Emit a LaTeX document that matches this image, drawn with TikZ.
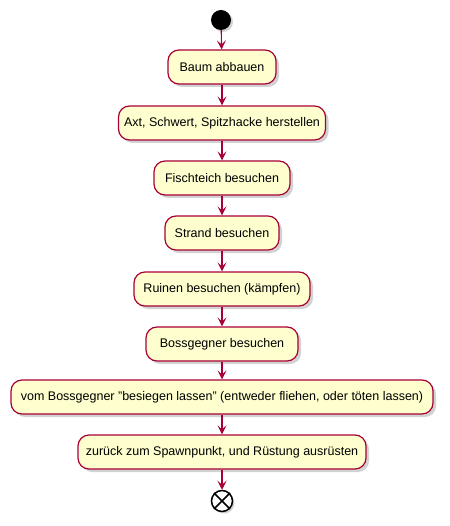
\documentclass[tikz,border=0pt]{standalone}
\usepackage{fontspec}
\setmainfont{Liberation Sans}
\usetikzlibrary{arrows.meta,shadows}
\definecolor{actfill}{HTML}{FEFECE}
\definecolor{actline}{HTML}{A80036}
\begin{document}
\begin{tikzpicture}[x=1pt,y=-1pt,
  act/.style={draw=actline,fill=actfill,line width=1.2pt,rounded corners=11pt,
    minimum height=34pt,inner sep=0pt,font=\fontsize{12.5}{14}\selectfont,
    drop shadow={shadow xshift=3pt,shadow yshift=-3pt,fill=black!35,opacity=0.5}},
  flow/.style={draw=actline,line width=1.1pt,-{Stealth[length=9pt,width=9pt,inset=4pt]}}]
\useasboundingbox (0,0) rectangle (449,526);
\node[circle,fill=black,minimum size=20pt,inner sep=0pt,
  drop shadow={shadow xshift=2pt,shadow yshift=-2pt,fill=black!35,opacity=0.5}] (start) at (221,20) {};
\node[act,minimum width=108pt] (a1) at (222,67) {Baum abbauen};
\node[act,minimum width=207pt] (a2) at (222,123) {Axt, Schwert, Spitzhacke herstellen};
\node[act,minimum width=136pt] (a3) at (222,178) {Fischteich besuchen};
\node[act,minimum width=114pt] (a4) at (222,233) {Strand besuchen};
\node[act,minimum width=176pt] (a5) at (222,289) {Ruinen besuchen (kämpfen)};
\node[act,minimum width=152pt] (a6) at (222,344) {Bossgegner besuchen};
\node[act,minimum width=422pt] (a7) at (222,397) {vom Bossgegner \symbol{34}besiegen lassen\symbol{34} (entweder fliehen, oder töten lassen)};
\node[act,minimum width=288pt] (a8) at (222,452) {zurück zum Spawnpunkt, und Rüstung ausrüsten};
\node[circle,draw=black,fill=white,line width=1.5pt,minimum size=21pt,inner sep=0pt,
  drop shadow={shadow xshift=2pt,shadow yshift=-2pt,fill=black!35,opacity=0.5}] (stop) at (222,501) {};
\draw[black,line width=1.5pt] (stop.north west) -- (stop.south east) (stop.north east) -- (stop.south west);
\draw[flow] (start) -- (a1);
\draw[flow] (a1) -- (a2);
\draw[flow] (a2) -- (a3);
\draw[flow] (a3) -- (a4);
\draw[flow] (a4) -- (a5);
\draw[flow] (a5) -- (a6);
\draw[flow] (a6) -- (a7);
\draw[flow] (a7) -- (a8);
\draw[flow] (a8) -- (stop);
\end{tikzpicture}
\end{document}
